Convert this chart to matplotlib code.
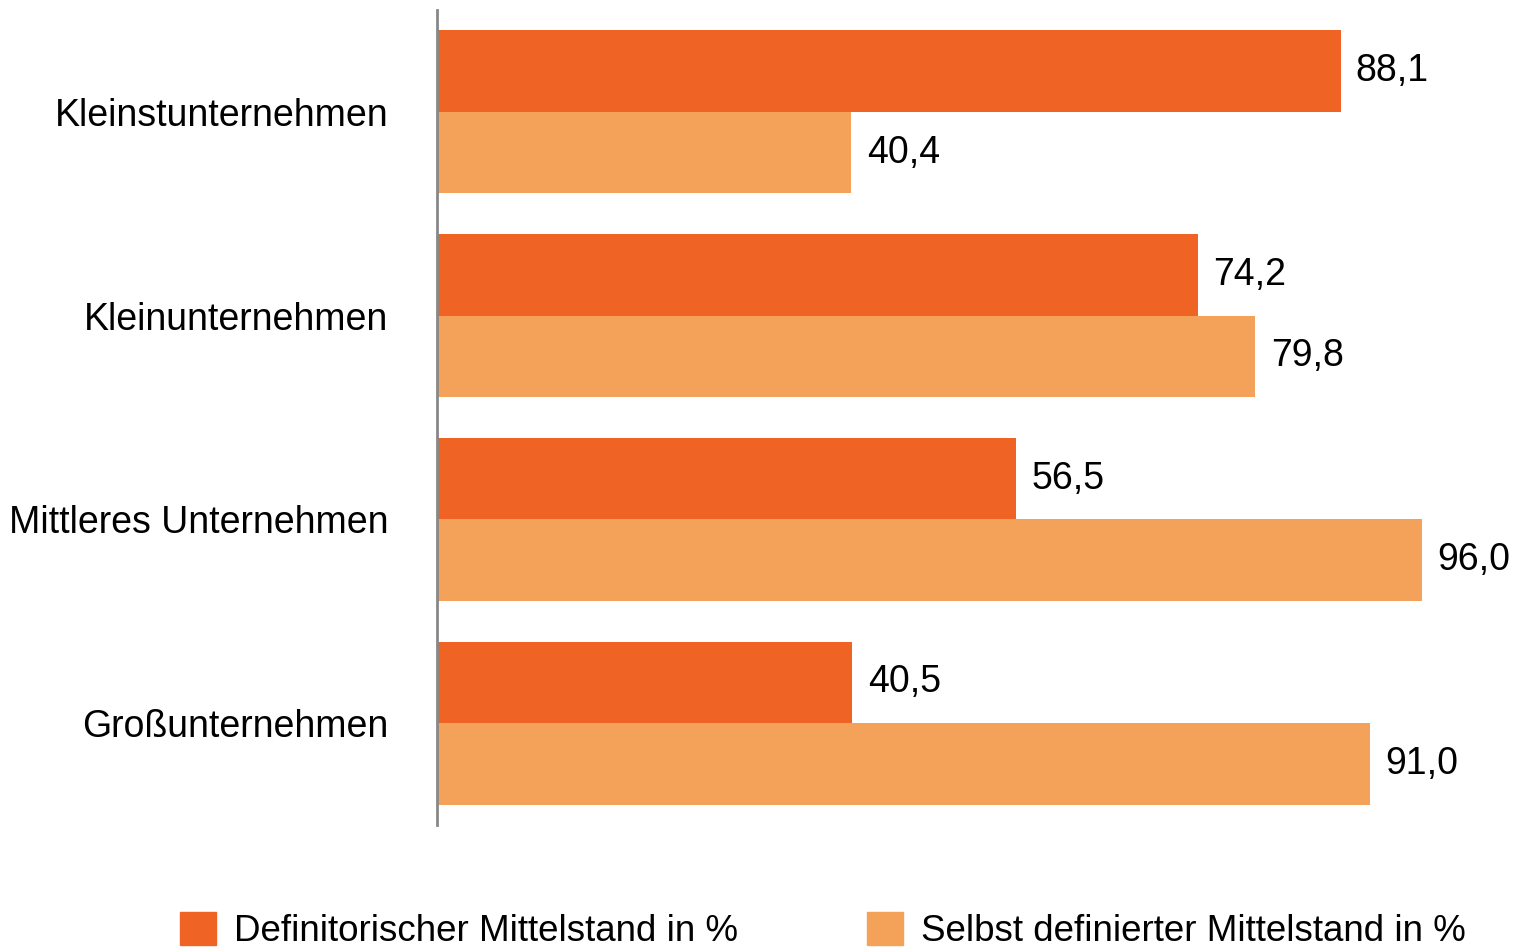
import matplotlib.pyplot as plt
from matplotlib.patches import Patch
import numpy as np

plt.rcParams['font.family'] = ['Liberation Sans', 'DejaVu Sans']

categories = ["Kleinstunternehmen", "Kleinunternehmen",
              "Mittleres Unternehmen", "Großunternehmen"]
definitorisch = [88.1, 74.2, 56.5, 40.5]
selbst = [40.4, 79.8, 96.0, 91.0]
series_names = ["Definitorischer Mittelstand in %",
                "Selbst definierter Mittelstand in %"]

dark = "#EF6325"
light = "#F4A25A"

fig = plt.figure(figsize=(15.18, 9.47), dpi=100)
ax = fig.add_axes([437 / 1518, 1 - 825 / 947, 1 - 437 / 1518, 815 / 947])

y = np.arange(len(categories))
h = 0.4
b1 = ax.barh(y - h / 2, definitorisch, height=h, color=dark)
b2 = ax.barh(y + h / 2, selbst, height=h, color=light)

fmt = lambda v: f"{v:.1f}".replace(".", ",")
ax.bar_label(b1, labels=[fmt(v) for v in definitorisch], padding=11, fontsize=27)
ax.bar_label(b2, labels=[fmt(v) for v in selbst], padding=11, fontsize=27)

ax.set_xlim(0, 105.4)
ax.set_ylim(3.5, -0.5)
ax.set_yticks(y)
ax.set_yticklabels(categories, fontsize=27)
ax.tick_params(axis="y", length=0, pad=35)
ax.set_xticks([])
for s in ["top", "right", "bottom"]:
    ax.spines[s].set_visible(False)
ax.spines["left"].set_color("#888888")
ax.spines["left"].set_linewidth(2)

handles = [Patch(color=dark), Patch(color=light)]
fig.legend(handles, series_names, loc="lower left", ncol=2, frameon=False,
           bbox_to_anchor=(180 / 1518, -2 / 947), fontsize=26.5,
           handlelength=0.98, handleheight=0.98, handletextpad=0.49,
           columnspacing=3.5, borderaxespad=0, borderpad=0)

fig.savefig("out.png", dpi=100)
